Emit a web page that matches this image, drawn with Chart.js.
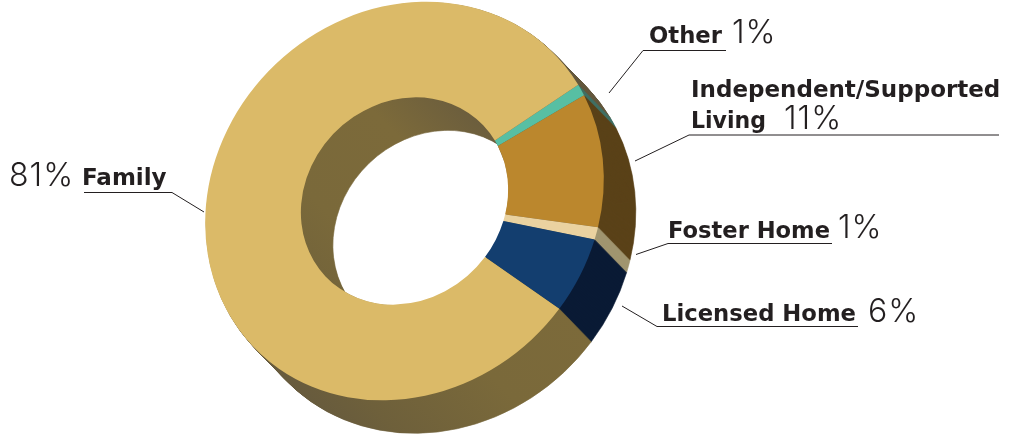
<!DOCTYPE html>
<html><head><meta charset="utf-8">
<style>html,body{margin:0;padding:0;background:#fff}#w{position:relative;width:1022px;height:437px}canvas{display:block}</style>
<script src="https://cdn.jsdelivr.net/npm/chart.js@4"></script>
</head><body><div id="w"><canvas id="c" width="1022" height="437"></canvas></div>
<script>
const categories = ['Other','Independent/Supported Living','Foster Home','Licensed Home','Family'];
const shares = [1,11,1,6,81];
const shareLabels = ['1%','11%','1%','6%','81%'];
const topColors = ['#57bfa3','#bb872d','#ead2a0','#133e6f','#dbba68'];
const sideColors = ['#3f6f63','#5a4218','#a0956f','#0a1a35',null];

const INK='#231f20';
const BOLD='700 23px "DejaVu Sans", sans-serif';
const LIGHT='300 32px Inter, Lato, sans-serif';
const DEPTH_X=32, DEPTH_Y=33;
const STRETCH_LONG=1.05, STRETCH_SHORT=0.94;

// disc is seen tilted: long axis NE-SW, short axis NW-SE
function tilt(ctx,cx,cy){
  const a=(STRETCH_LONG+STRETCH_SHORT)/2, b=(STRETCH_SHORT-STRETCH_LONG)/2;
  ctx.translate(cx,cy);
  ctx.transform(a,b,b,a,0,0);
  ctx.translate(-cx,-cy);
}
function ringPath(ctx,p){
  ctx.beginPath();
  ctx.arc(p.x,p.y,p.outerRadius,p.startAngle,p.endAngle);
  ctx.arc(p.x,p.y,p.innerRadius,p.endAngle,p.startAngle,true);
  ctx.closePath();
}
const extrude={
  id:'extrude',
  beforeDatasetsDraw(chart){
    const ctx=chart.ctx, arcs=chart.getDatasetMeta(0).data;
    const {x:cx,y:cy}=arcs[0].getProps(['x','y'],true);
    const L=250, ux=Math.SQRT1_2, uy=-Math.SQRT1_2;
    const g=ctx.createLinearGradient(cx-ux*L,cy-uy*L,cx+ux*L,cy+uy*L);
    g.addColorStop(0,'#5f553e');
    g.addColorStop(0.04,'#62573f');
    g.addColorStop(0.18,'#6e603b');
    g.addColorStop(0.38,'#7a693a');
    g.addColorStop(0.58,'#7c6a3a');
    g.addColorStop(0.74,'#685b3e');
    g.addColorStop(1,'#5f533a');
    const steps=Math.max(DEPTH_X,DEPTH_Y);
    for(let s=steps;s>=1;s--){
      ctx.save();
      ctx.translate(DEPTH_X*s/steps,DEPTH_Y*s/steps);
      tilt(ctx,cx,cy);
      arcs.forEach((arc,i)=>{
        const p=arc.getProps(['x','y','startAngle','endAngle','innerRadius','outerRadius'],true);
        ringPath(ctx,p);
        ctx.fillStyle=sideColors[i]||g;
        ctx.strokeStyle=ctx.fillStyle; ctx.lineWidth=0.6;
        ctx.fill(); ctx.stroke();
      });
      ctx.restore();
    }
    ctx.save();
    tilt(ctx,cx,cy);
  },
  afterDatasetsDraw(chart){ chart.ctx.restore(); }
};

const LABELS=[
 {i:0,lines:[['Other',649,43,73]],pct:[732,43],leader:[[609,93],[643,50.5],[726,50.5]]},
 {i:1,lines:[['Independent/Supported',691,97,311],['Living',691,128,75]],pct:[784,128.5],leader:[[635,161],[689,135],[999,135]]},
 {i:2,lines:[['Foster Home',668,238,162]],pct:[838,238],leader:[[636,254.5],[668,243.5],[832,243.5]]},
 {i:3,lines:[['Licensed Home',662,321,194]],pct:[868,322],leader:[[622,306],[657,326.5],[858,326.5]]},
 {i:4,lines:[['Family',82,185,86]],pct:[9,186],leader:[[84,192.5],[172,192.5],[204,212]]}
];
const callouts={
  id:'callouts',
  afterDraw(chart){
    const ctx=chart.ctx;
    ctx.save();
    ctx.textBaseline='alphabetic'; ctx.textAlign='left'; ctx.fillStyle=INK;
    LABELS.forEach(l=>{
      ctx.font=BOLD;
      ctx.letterSpacing='0px';
      l.lines.forEach(t=>ctx.fillText(t[0],t[1],t[2],t[3]));
      ctx.font=LIGHT;
      ctx.letterSpacing='1px';
      ctx.fillText(shareLabels[l.i],l.pct[0],l.pct[1]);
      ctx.beginPath();
      l.leader.forEach((p,k)=>k?ctx.lineTo(p[0],p[1]):ctx.moveTo(p[0],p[1]));
      ctx.strokeStyle=INK; ctx.lineWidth=1; ctx.stroke();
    });
    ctx.restore();
  }
};

new Chart(document.getElementById('c'),{
  type:'doughnut',
  data:{labels:categories,datasets:[{data:shares,backgroundColor:topColors,borderWidth:0,hoverOffset:0}]},
  options:{
    responsive:false,animation:false,rotation:57.5,cutout:'52%',
    layout:{padding:{left:0,right:213,top:1,bottom:36}},
    plugins:{legend:{display:false},tooltip:{enabled:false},title:{display:false}}
  },
  plugins:[extrude,callouts]
});
</script></body></html>
